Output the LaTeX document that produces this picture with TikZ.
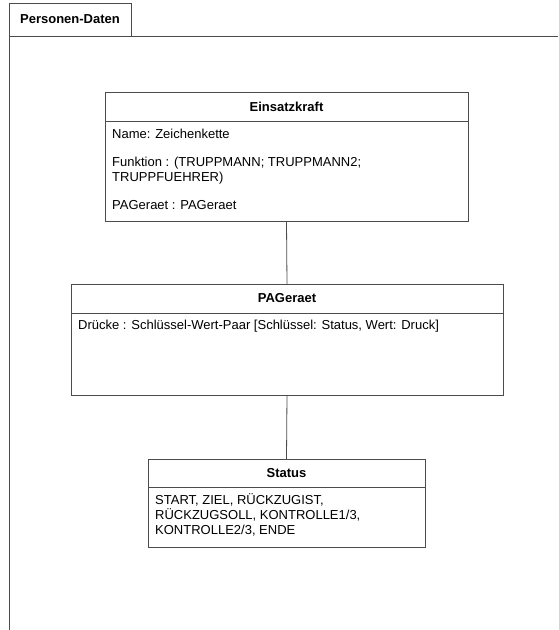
\documentclass[tikz,border=0pt]{standalone}
\usepackage{fontspec}
\setmainfont{Liberation Sans}
\usetikzlibrary{calc}

\tikzset{
  umlline/.style={draw=black!70,line width=0.8pt},
  umlbox/.style={umlline,anchor=north west,inner sep=0pt,outer sep=0pt},
  umltitle/.style={font=\bfseries\fontsize{13}{15}\selectfont,inner sep=0pt},
  umlattr/.style={anchor=base west,align=left,inner sep=0pt,font=\fontsize{13}{15}\selectfont}
}

\begin{document}
\begin{tikzpicture}[x=1pt,y=-1pt]
        \useasboundingbox (0,0) rectangle (558,630);
        \draw[umlline] (9,3) rectangle (131,36);
        \draw[umlline] (558,36) -- (9,36) -- (9,630);
        \node[umltitle] (pkg) at (70,19.5) {Personen-Daten};

        \node[umlbox,minimum width=363,minimum height=129] (ek) at (105,92) {};
        \draw[umlline] ($(ek.north west)+(0,29)$) -- ($(ek.north east)+(0,29)$);
        \node[umltitle] (ek-name) at ($(ek.north)+(0,15)$) {Einsatzkraft};
        \node[umlattr] (ek-attr) at ($(ek.north west)+(7,117.5)$)
          {Name: Zeichenkette\\[13pt]
           Funktion : (TRUPPMANN; TRUPPMANN2;\\
           TRUPPFUEHRER)\\[13pt]
           PAGeraet : PAGeraet};

        \node[umlbox,minimum width=432,minimum height=111] (pa) at (71,284) {};
        \draw[umlline] ($(pa.north west)+(0,29)$) -- ($(pa.north east)+(0,29)$);
        \node[umltitle] (pa-name) at ($(pa.north)+(0,14)$) {PAGeraet};
        \node[umlattr] (pa-attr) at ($(pa.north west)+(7,45.5)$)
          {Drücke : Schlüssel-Wert-Paar [Schlüssel: Status, Wert: Druck]};

        \node[umlbox,minimum width=277,minimum height=88] (st) at (148,459) {};
        \draw[umlline] ($(st.north west)+(0,28)$) -- ($(st.north east)+(0,28)$);
        \node[umltitle] (st-name) at ($(st.north)+(0,14)$) {Status};
        \node[umlattr] (st-attr) at ($(st.north west)+(7,75.5)$)
          {START, ZIEL, RÜCKZUGIST,\\
           RÜCKZUGSOLL, KONTROLLE1/3,\\
           KONTROLLE2/3, ENDE};

        \draw[umlline]
        (ek.south) -- (pa.north)
        (pa.south) -- (st.north);
\end{tikzpicture}
\end{document}
